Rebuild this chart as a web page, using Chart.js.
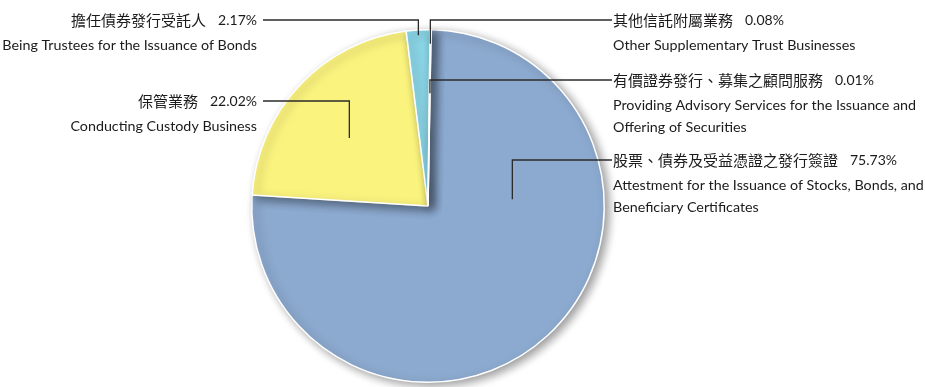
<!DOCTYPE html>
<html>
<head>
<meta charset="utf-8">
<script src="https://cdn.jsdelivr.net/npm/chart.js@4"></script>
<style>
  html, body { margin: 0; padding: 0; background: #ffffff; }
  #wrap { width: 925px; height: 387px; }
</style>
</head>
<body>
<div id="wrap"><canvas id="trustChart" width="925" height="387"></canvas></div>
<script>
// Datos del gráfico
const labelsZh = ['股票、債券及受益憑證之發行簽證', '保管業務', '擔任債券發行受託人', '其他信託附屬業務', '有價證券發行、募集之顧問服務'];
const labelsEn = [
    ['Attestment for the Issuance of Stocks, Bonds, and', 'Beneficiary Certificates'],
    ['Conducting Custody Business'],
    ['Being Trustees for the Issuance of Bonds'],
    ['Other Supplementary Trust Businesses'],
    ['Providing Advisory Services for the Issuance and', 'Offering of Securities']
];
const shares = [75.73, 22.02, 2.17, 0.08, 0.01];
const sliceColors = ['#8ca9cf', '#faf37e', '#8ad5e6', '#e0735f', '#cbb9c6'];

// Posición de las etiquetas (lado, y de la primera línea, punto dentro de la porción)
const callouts = [
    { side: 'right', y: 160, along: 0.31, radial: 0.48 },
    { side: 'left',  y: 101, along: 0.47, radial: 0.59 },
    { side: 'left',  y: 20,  along: 0.5,  radial: 0.97 },
    { side: 'right', y: 20,  along: 0.5,  radial: 0.92 },
    { side: 'right', y: 80,  along: 0.5,  radial: 0.64 }
];

const zhFont = '15px "Noto Sans CJK TC", "Noto Sans CJK SC", sans-serif';
const numFont = '14px Lato, "Open Sans", sans-serif';
const enFont = '14.3px Lato, "Open Sans", sans-serif';

// Sombra suave bajo el pastel
const shadowPlugin = {
    id: 'pieShadow',
    beforeDatasetsDraw(chart) {
        const ctx = chart.ctx;
        ctx.save();
        ctx.shadowColor = 'rgba(0, 0, 0, 0.4)';
        ctx.shadowBlur = 10;
        ctx.shadowOffsetX = 4;
        ctx.shadowOffsetY = 3;
    },
    afterDatasetsDraw(chart) {
        chart.ctx.restore();
    }
};

// Etiquetas con líneas de guía
const calloutPlugin = {
    id: 'callouts',
    afterDraw(chart) {
        const ctx = chart.ctx;
        const arcs = chart.getDatasetMeta(0).data;
        arcs.forEach((arc, i) => {
            const c = callouts[i];
            const p = arc.getProps(['x', 'y', 'startAngle', 'endAngle', 'outerRadius'], true);
            const ang = p.startAngle + (p.endAngle - p.startAngle) * c.along;
            const r = p.outerRadius * c.radial;
            const ax = p.x + Math.cos(ang) * r;
            const ay = p.y + Math.sin(ang) * r;

            const pct = shares[i].toFixed(2) + '%';
            ctx.save();
            ctx.textBaseline = 'middle';
            ctx.fillStyle = '#1c1a1b';
            let lineEndX;
            if (c.side === 'left') {
                const rightX = 257;
                ctx.font = numFont;
                const pw = ctx.measureText(pct).width;
                ctx.textAlign = 'right';
                ctx.fillText(pct, rightX, c.y);
                ctx.font = zhFont;
                ctx.fillText(labelsZh[i], rightX - pw - 12, c.y);
                ctx.font = enFont;
                labelsEn[i].forEach((t, k) => ctx.fillText(t, rightX, c.y + 25 + k * 22));
                lineEndX = rightX + 6;
            } else {
                const leftX = 613;
                ctx.textAlign = 'left';
                ctx.font = zhFont;
                const zw = ctx.measureText(labelsZh[i]).width;
                ctx.fillText(labelsZh[i], leftX, c.y);
                ctx.font = numFont;
                ctx.fillText(pct, leftX + zw + 12, c.y);
                ctx.font = enFont;
                labelsEn[i].forEach((t, k) => ctx.fillText(t, leftX, c.y + 25 + k * 22));
                lineEndX = leftX - 1;
            }
            ctx.strokeStyle = '#2b2b2b';
            ctx.lineWidth = 1.3;
            ctx.beginPath();
            ctx.moveTo(lineEndX, c.y);
            ctx.lineTo(ax, c.y);
            ctx.lineTo(ax, ay);
            ctx.stroke();
            ctx.restore();
        });
    }
};

const ctx = document.getElementById('trustChart').getContext('2d');
const trustChart = new Chart(ctx, {
    type: 'pie',
    data: {
        labels: labelsZh,
        datasets: [{
            data: shares,
            backgroundColor: sliceColors,
            borderColor: '#ffffff',
            borderWidth: 1.5
        }]
    },
    options: {
        responsive: false,
        animation: false,
        rotation: 1,
        layout: {
            padding: { top: 29, bottom: 4, left: 0, right: 69 }
        },
        plugins: {
            legend: { display: false },
            tooltip: { enabled: false },
            title: { display: false }
        }
    },
    plugins: [shadowPlugin, calloutPlugin]
});
</script>
</body>
</html>
